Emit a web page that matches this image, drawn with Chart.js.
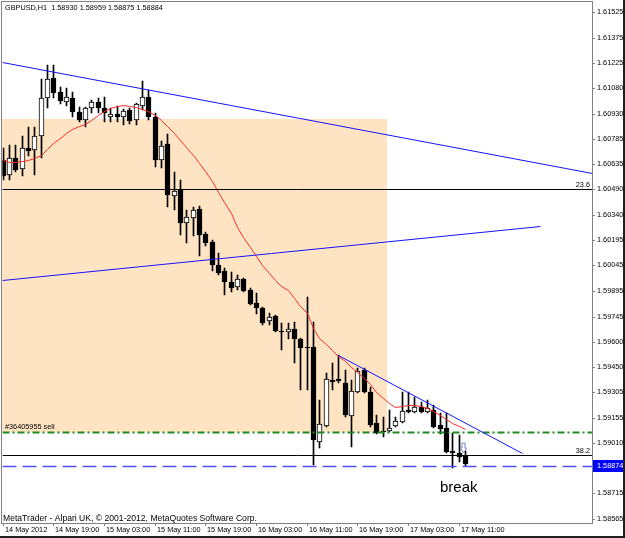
<!DOCTYPE html>
<html>
<head>
<meta charset="utf-8">
<title>GBPUSD,H1</title>
<script src="https://cdn.jsdelivr.net/npm/chart.js@4.4.0/dist/chart.umd.min.js"></script>
<style>
    html, body { margin: 0; padding: 0; background: #202020; }
    #wrap { width: 623px; height: 536px; background: #fff; }
    canvas { display: block; }
</style>
</head>
<body>
<div id="wrap"><canvas id="chart" width="623" height="536"></canvas></div>
<script>
// GBPUSD H1 bars, 14 May 11:00 .. 17 May 12:00
const opens = [1.60661,1.60573,1.60672,1.60608,1.60731,1.60719,1.60801,1.61023,1.61140,1.61058,
    1.60999,1.61023,1.60941,1.60894,1.60964,1.60999,1.60964,1.60912,1.60929,1.60912,
    1.60953,1.60894,1.60976,1.61029,1.60912,1.60661,1.60754,1.60450,1.60485,1.60293,
    1.60322,1.60374,1.60228,1.60182,1.60047,1.60012,1.59948,1.59919,1.59966,1.59901,
    1.59826,1.59796,1.59720,1.59750,1.59662,1.59656,1.59674,1.59615,1.59569,1.59569,
    1.59014,1.59107,1.59376,1.59382,1.59358,1.59166,1.59306,1.59434,1.59306,1.59125,
    1.59078,1.59078,1.59107,1.59131,1.59201,1.59189,1.59218,1.59189,1.59201,1.59113,
    1.59096,1.58961,1.58950,1.58930];
const highs = [1.60731,1.60748,1.60748,1.60801,1.60853,1.60853,1.61134,1.61215,1.61215,1.61087,
    1.61081,1.61058,1.60970,1.60970,1.61011,1.61023,1.61029,1.60964,1.60976,1.60958,
    1.60964,1.60994,1.61122,1.61069,1.60935,1.60772,1.60812,1.60591,1.60544,1.60369,
    1.60386,1.60392,1.60240,1.60193,1.60118,1.60030,1.60007,1.59989,1.59972,1.59913,
    1.59884,1.59802,1.59767,1.59755,1.59709,1.59709,1.59715,1.59621,1.59861,1.59715,
    1.59259,1.59417,1.59475,1.59522,1.59434,1.59376,1.59446,1.59446,1.59335,1.59171,
    1.59160,1.59201,1.59160,1.59306,1.59306,1.59277,1.59247,1.59259,1.59230,1.59183,
    1.59183,1.59066,1.59055,1.58959];
const lows = [1.60544,1.60544,1.60591,1.60567,1.60684,1.60573,1.60672,1.60964,1.61023,1.60988,
    1.60976,1.60912,1.60883,1.60853,1.60935,1.60935,1.60883,1.60883,1.60883,1.60865,
    1.60871,1.60865,1.60953,1.60894,1.60620,1.60614,1.60386,1.60369,1.60223,1.60176,
    1.60217,1.60100,1.60158,1.60012,1.59989,1.59872,1.59890,1.59901,1.59890,1.59814,
    1.59761,1.59697,1.59697,1.59656,1.59551,1.59615,1.59475,1.59317,1.59317,1.58879,
    1.58979,1.59101,1.59317,1.59358,1.59160,1.58985,1.59300,1.59300,1.59101,1.59060,
    1.59043,1.59072,1.59101,1.59125,1.59183,1.59183,1.59183,1.59183,1.59096,1.59060,
    1.58950,1.58862,1.58897,1.58875];
const closes = [1.60567,1.60672,1.60602,1.60731,1.60713,1.60801,1.61023,1.61134,1.61052,1.61005,
    1.61029,1.60941,1.60894,1.60964,1.60999,1.60964,1.60935,1.60929,1.60912,1.60947,
    1.60888,1.60988,1.61029,1.60912,1.60661,1.60742,1.60456,1.60480,1.60293,1.60328,
    1.60369,1.60223,1.60176,1.60047,1.60001,1.59948,1.59913,1.59966,1.59896,1.59820,
    1.59796,1.59709,1.59744,1.59662,1.59656,1.59674,1.59615,1.59563,1.59563,1.59025,
    1.59119,1.59382,1.59364,1.59370,1.59171,1.59312,1.59428,1.59306,1.59113,1.59066,
    1.59072,1.59096,1.59136,1.59195,1.59189,1.59218,1.59189,1.59212,1.59101,1.59090,
    1.58955,1.58950,1.58926,1.58884];
// moving average (red)
const maValues = [1.60661,1.60649,1.60649,1.60655,1.60661,1.60672,1.60690,1.60725,1.60760,1.60789,
    1.60818,1.60842,1.60859,1.60871,1.60894,1.60923,1.60947,1.60964,1.60976,1.60982,
    1.60976,1.60970,1.60958,1.60947,1.60923,1.60894,1.60859,1.60818,1.60777,1.60737,
    1.60690,1.60643,1.60596,1.60538,1.60474,1.60415,1.60351,1.60269,1.60211,1.60153,
    1.60100,1.60047,1.60001,1.59960,1.59925,1.59901,1.59855,1.59808,1.59767,1.59680,
    1.59621,1.59586,1.59551,1.59516,1.59487,1.59452,1.59423,1.59387,1.59352,1.59306,
    1.59271,1.59242,1.59218,1.59224,1.59230,1.59230,1.59224,1.59212,1.59195,1.59171,
    1.59148,1.59125,1.59107,1.59090];

const timeTickBars = [1, 9, 17, 25, 33, 41, 49, 57, 65, 73];
const timeTickLabels = ['14 May 2012', '14 May 19:00', '15 May 03:00', '15 May 11:00', '15 May 19:00',
    '16 May 03:00', '16 May 11:00', '16 May 19:00', '17 May 03:00', '17 May 11:00'];
const priceTicks = [1.61525, 1.61375, 1.61225, 1.61080, 1.60930, 1.60785, 1.60635, 1.60490, 1.60340,
    1.60195, 1.60045, 1.59895, 1.59745, 1.59600, 1.59450, 1.59305, 1.59155, 1.59010, 1.58715, 1.58565];

// objects on the chart: [bar1, price1, bar2, price2]
const upperTrend = [0.9, 1.61233, 94.06, 1.60585];
const risingTrend = [0.9, 1.59960, 85.85, 1.60275];
const fallingTrend = [53.95, 1.59522, 82.96, 1.58951];
const zoneBox = [0.9, 1.60900, 61.75, 1.59072];
const fibo236 = 1.60491;
const fibo382 = 1.58938;
const sellLevel = 1.59072;
const bidPrice = 1.58874;

const firstBar = 0.9, lastBar = 94.06;
const priceLow = 1.58541, priceHigh = 1.61583;

const barIndex = opens.map((_, i) => i + 1);
const last = opens.length - 1;

function hLine(price) {
    return [{x: firstBar, y: price}, {x: lastBar, y: price}];
}
function segment(t) {
    return [{x: t[0], y: t[1]}, {x: t[2], y: t[3]}];
}

const mtDecor = {
    id: 'mtDecor',
    beforeDatasetsDraw(chart) {
        const {ctx, chartArea, scales: {x, y}} = chart;
        ctx.save();
        ctx.beginPath();
        ctx.rect(chartArea.left, chartArea.top, chartArea.width, chartArea.height);
        ctx.clip();
        const x1 = x.getPixelForValue(zoneBox[0]);
        const x2 = x.getPixelForValue(zoneBox[2]);
        const y1 = y.getPixelForValue(zoneBox[1]);
        const y2 = y.getPixelForValue(zoneBox[3]);
        ctx.fillStyle = '#ffe4c4';
        ctx.fillRect(x1, y1, x2 - x1, y2 - y1);
        ctx.restore();
    },
    beforeDatasetDraw(chart, args) {
        chart.ctx.save();
        if (args.meta.type === 'bar') chart.ctx.translate(0.5, 0);
        else chart.ctx.translate(0.5, 0.5);
    },
    afterDatasetDraw(chart) {
        chart.ctx.restore();
    },
    afterDraw(chart) {
        const {ctx, chartArea, scales: {x, y}} = chart;
        const small = '7.3px "Liberation Sans", Arial, sans-serif';
        ctx.save();

        // frame
        ctx.strokeStyle = '#808080';
        ctx.lineWidth = 1;
        ctx.strokeRect(chartArea.left - 0.5, chartArea.top - 0.5, chartArea.width + 1, chartArea.height + 1);

        ctx.fillStyle = '#000';
        ctx.font = small;
        ctx.textBaseline = 'top';
        ctx.textAlign = 'left';
        ctx.fillText('GBPUSD,H1  ' + opens[last].toFixed(5) + ' ' + highs[last].toFixed(5) + ' ' +
            lows[last].toFixed(5) + ' ' + closes[last].toFixed(5), 5, 4);

        ctx.textBaseline = 'alphabetic';
        ctx.font = '8.6px "Liberation Sans", Arial, sans-serif';
        ctx.fillText('MetaTrader - Alpari UK, \u00a9 2001-2012, MetaQuotes Software Corp.', 3, chartArea.bottom - 2);

        ctx.font = small;
        ctx.fillText('#36405955 sell', 5, Math.round(y.getPixelForValue(sellLevel)) - 3);
        ctx.textAlign = 'right';
        ctx.fillText('23.6', chartArea.right - 2, Math.round(y.getPixelForValue(fibo236)) - 2);
        ctx.fillText('38.2', chartArea.right - 2, Math.round(y.getPixelForValue(fibo382)) - 2);

        ctx.textAlign = 'left';
        ctx.font = '15px "Liberation Sans", Arial, sans-serif';
        ctx.fillText('break', x.getPixelForValue(70), y.getPixelForValue(1.58722));

        // trade arrow above the last bar
        const ax = Math.round(x.getPixelForValue(barIndex[last] - 0.3)) + 0.5;
        const ay = Math.round(y.getPixelForValue(highs[last])) - 8;
        ctx.beginPath();
        ctx.moveTo(ax - 1.5, ay);
        ctx.lineTo(ax + 1.5, ay);
        ctx.lineTo(ax + 1.5, ay + 5);
        ctx.lineTo(ax + 3, ay + 5);
        ctx.lineTo(ax, ay + 10);
        ctx.lineTo(ax - 3, ay + 5);
        ctx.lineTo(ax - 1.5, ay + 5);
        ctx.closePath();
        ctx.fillStyle = '#fff';
        ctx.fill();
        ctx.strokeStyle = '#7585c0';
        ctx.stroke();

        // bid price box on the axis
        const by = Math.round(y.getPixelForValue(bidPrice));
        ctx.fillStyle = '#0000ff';
        ctx.fillRect(chartArea.right + 1, by - 6, chart.width - chartArea.right - 1, 12);
        ctx.fillStyle = '#fff';
        ctx.font = small;
        ctx.textBaseline = 'middle';
        ctx.fillText(bidPrice.toFixed(5), chartArea.right + 5, by);
        ctx.restore();
    }
};

Chart.defaults.font.family = '"Liberation Sans", Arial, sans-serif';
Chart.defaults.color = '#000';

const ctx = document.getElementById('chart').getContext('2d');
new Chart(ctx, {
    type: 'bar',
    data: {
        datasets: [
            {type: 'line', label: 'upper trend', data: segment(upperTrend), borderColor: '#1414ff', borderWidth: 1, pointRadius: 0, order: 1},
            {type: 'line', label: 'rising trend', data: segment(risingTrend), borderColor: '#1414ff', borderWidth: 1, pointRadius: 0, order: 1},
            {type: 'line', label: 'falling trend', data: segment(fallingTrend), borderColor: '#1414ff', borderWidth: 1, pointRadius: 0, order: 1},
            {type: 'line', label: '23.6', data: hLine(fibo236), borderColor: '#000', borderWidth: 1, pointRadius: 0, order: 2},
            {type: 'line', label: '38.2', data: hLine(fibo382), borderColor: '#000', borderWidth: 1, pointRadius: 0, order: 2},
            {type: 'line', label: 'sell', data: hLine(sellLevel), borderColor: '#1f8c1f', borderWidth: 2, borderDash: [7, 3, 2, 3], pointRadius: 0, order: 2},
            {type: 'line', label: 'bid', data: hLine(bidPrice), borderColor: '#5050ff', borderWidth: 1.5, borderDash: [14, 6], pointRadius: 0, order: 2},
            {type: 'line', label: 'MA', data: barIndex.map((b, i) => ({x: b, y: maValues[i]})), borderColor: '#ff2a2a', borderWidth: 1, pointRadius: 0, order: 3},
            {
                type: 'bar', label: 'bodies', order: 4, grouped: false,
                data: barIndex.map((b, i) => ({x: b, y: [opens[i], closes[i]]})),
                backgroundColor: c => closes[c.dataIndex] >= opens[c.dataIndex] ? '#fff' : '#000',
                borderColor: '#000', borderWidth: 1, borderSkipped: false,
                barThickness: 5, minBarLength: 1
            },
            {
                type: 'bar', label: 'wicks', order: 5, grouped: false,
                data: barIndex.map((b, i) => ({x: b, y: [lows[i], highs[i]]})),
                backgroundColor: '#000', borderWidth: 0, barThickness: 1
            }
        ]
    },
    options: {
        responsive: false,
        animation: false,
        events: [],
        layout: {padding: {left: 2, top: 2, right: 0, bottom: 0}},
        plugins: {legend: {display: false}, tooltip: {enabled: false}},
        scales: {
            x: {
                type: 'linear', min: firstBar, max: lastBar, offset: false, alignToPixels: true,
                grid: {offset: false, drawOnChartArea: false, drawTicks: true, tickLength: 3, color: '#808080'},
                border: {display: false},
                ticks: {
                    padding: 0, align: 'start', labelOffset: 2, autoSkip: false,
                    maxRotation: 0, minRotation: 0, font: {size: 7.3},
                    callback: (v, i) => timeTickLabels[i]
                },
                afterBuildTicks: s => { s.ticks = timeTickBars.map(v => ({value: v})); },
                afterFit: s => { s.height = 13; s.paddingLeft = 0; s.paddingRight = 0; }
            },
            y: {
                type: 'linear', position: 'right', min: priceLow, max: priceHigh,
                beginAtZero: false, alignToPixels: true,
                grid: {drawOnChartArea: false, drawTicks: true, tickLength: 3, color: '#808080'},
                border: {display: false},
                ticks: {padding: 2, autoSkip: false, font: {size: 7.3}, callback: v => v.toFixed(5)},
                afterBuildTicks: s => { s.ticks = priceTicks.map(v => ({value: v})); },
                afterFit: s => { s.width = 31; s.paddingTop = 0; s.paddingBottom = 0; }
            }
        }
    },
    plugins: [mtDecor]
});
</script>
</body>
</html>
